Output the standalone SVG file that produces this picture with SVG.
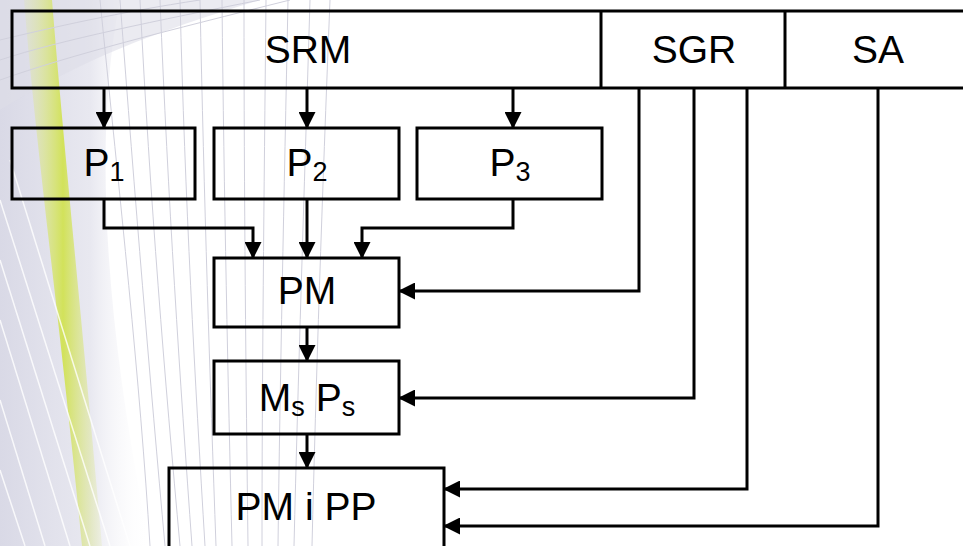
<svg xmlns="http://www.w3.org/2000/svg" width="963" height="546" viewBox="0 0 963 546">
<defs>
<marker id="ah" markerUnits="userSpaceOnUse" markerWidth="17" markerHeight="17" refX="16" refY="8.5" orient="auto" viewBox="0 0 17 17">
<path d="M0,0 L17,8.5 L0,17 z" fill="#000"/>
</marker>
<linearGradient id="lav" x1="0" y1="0" x2="1" y2="0">
<stop offset="0" stop-color="#d9d9e6"/>
<stop offset="0.6" stop-color="#e8e8f0"/>
<stop offset="1" stop-color="#ffffff" stop-opacity="0"/>
</linearGradient>
<linearGradient id="grn" x1="0" y1="0" x2="1" y2="0">
<stop offset="0" stop-color="#dfe89a" stop-opacity="0.2"/>
<stop offset="0.5" stop-color="#d2e25a"/>
<stop offset="1" stop-color="#dfe89a" stop-opacity="0.2"/>
</linearGradient>
</defs>
<style>
.box{fill:none;stroke:#000;stroke-width:3}
.con{fill:none;stroke:#000;stroke-width:3;marker-end:url(#ah)}
.lbl{font-family:"Liberation Sans",Arial,sans-serif;font-size:39px;fill:#000;text-anchor:middle}
.sub{font-size:27px}
.bg{fill:none;stroke:#d0d0dc;stroke-width:1}
.bgw{fill:none;stroke:#ffffff;stroke-width:1.5;opacity:0.8}
</style>
<rect width="963" height="546" fill="#fff"/>
<g id="background">
<path d="M0,0 H120 C90,150 110,350 150,546 H0 Z" fill="url(#lav)"/>
<path d="M0,0 H260 C160,30 80,60 0,110 Z" fill="#dedee8" opacity="0.6"/>
<path d="M24,0 C36,150 60,320 82,546 L102,546 C82,320 64,150 52,0 Z" fill="url(#grn)"/>
<path d="M100,0 C120,200 140,380 150,546" class="bg"/>
<path d="M120,0 C135,200 150,380 165,546" class="bg"/>
<path d="M140,0 C150,200 165,380 180,546" class="bg"/>
<path d="M160,0 C168,200 180,380 192,546" class="bg"/>
<path d="M180,0 C185,200 195,380 205,546" class="bg"/>
<path d="M200,0 C204,200 210,380 216,546" class="bg"/>
<path d="M222,0 C224,200 228,380 232,546" class="bg"/>
<path d="M244,0 C244,200 246,380 248,546" class="bg"/>
<path d="M266,0 C264,200 262,380 262,546" class="bg"/>
<path d="M288,0 C284,200 280,380 278,546" class="bg"/>
<path d="M310,0 C304,200 298,380 294,546" class="bg"/>
<path d="M330,0 C322,200 316,380 312,546" class="bg"/>
<path d="M0,200 L110,546" class="bgw"/>
<path d="M0,260 L90,546" class="bgw"/>
<path d="M0,320 L70,546" class="bgw"/>
<path d="M10,160 L130,546" class="bgw"/>
<path d="M0,400 L45,546" class="bgw"/>
<path d="M0,470 L25,546" class="bgw"/>
<path d="M0,60 C60,40 160,20 260,0" class="bg"/>
<path d="M0,80 C70,55 170,30 290,0" class="bg"/>
<path d="M0,40 C50,28 120,12 200,0" class="bg"/>
</g>
<g id="top">
<rect class="box" x="12" y="11" width="960" height="77"/>
<line class="box" x1="601" y1="11" x2="601" y2="88"/>
<line class="box" x1="785" y1="11" x2="785" y2="88"/>
<text class="lbl" x="308" y="63">SRM</text>
<text class="lbl" x="694" y="63">SGR</text>
<text class="lbl" x="878" y="63">SA</text>
</g>
<g id="p1">
<rect class="box" x="12" y="128" width="183" height="71"/>
<text class="lbl" x="104" y="176">P<tspan class="sub" dy="5">1</tspan></text>
</g>
<g id="p2">
<rect class="box" x="214" y="128" width="185" height="71"/>
<text class="lbl" x="307" y="176">P<tspan class="sub" dy="5">2</tspan></text>
</g>
<g id="p3">
<rect class="box" x="417" y="128" width="185" height="71"/>
<text class="lbl" x="510" y="176">P<tspan class="sub" dy="5">3</tspan></text>
</g>
<g id="pm">
<rect class="box" x="214" y="258" width="185" height="69"/>
<text class="lbl" x="307" y="304">PM</text>
</g>
<g id="msps">
<rect class="box" x="214" y="361" width="185" height="73"/>
<text class="lbl" x="307" y="411">M<tspan class="sub" dy="5">s</tspan><tspan dy="-5"> P</tspan><tspan class="sub" dy="5">s</tspan></text>
</g>
<g id="pmipp">
<path class="box" d="M169,552 V468 H444 V552"/>
<text class="lbl" x="306" y="520">PM i PP</text>
</g>
<g id="connectors">
<path class="con" d="M104,88 V128"/>
<path class="con" d="M307,88 V128"/>
<path class="con" d="M513,88 V128"/>
<path class="con" d="M104,199 V228 H253 V258"/>
<path class="con" d="M307,199 V258"/>
<path class="con" d="M513,199 V228 H362 V258"/>
<path class="con" d="M639,88 V291 H399"/>
<path class="con" d="M307,327 V361"/>
<path class="con" d="M694,88 V398 H399"/>
<path class="con" d="M307,434 V468"/>
<path class="con" d="M747,88 V489 H444"/>
<path class="con" d="M878,88 V526 H444"/>
</g>
</svg>
